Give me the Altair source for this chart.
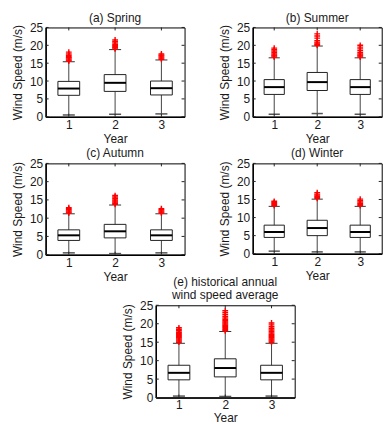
import altair as alt
import pandas as pd

# ---------------- data ----------------
titles = ["(a) Spring", "(b) Summer", "(c) Autumn", "(d) Winter",
          ["(e) historical annual", "wind speed average"]]
years = [1, 2, 3]
y_ticks = [0, 5, 10, 15, 20, 25]

whisker_lo = [[0.5, 0.7, 0.8], [0.7, 0.9, 0.7], [0.5, 0.3, 0.5], [0.7, 0.5, 0.5], [0.4, 0.3, 0.4]]
q1 = [[6.0, 7.1, 6.1], [6.25, 7.35, 6.25], [3.9, 4.6, 3.9], [4.5, 5.0, 4.5], [4.8, 5.6, 4.8]]
median = [[7.9, 9.5, 8.0], [8.3, 9.7, 8.3], [5.3, 6.4, 5.3], [6.0, 7.1, 6.0], [6.7, 8.0, 6.7]]
q3 = [[9.9, 11.8, 10.0], [10.4, 12.4, 10.4], [6.8, 8.3, 6.8], [7.9, 9.25, 7.9], [8.75, 10.5, 8.75]]
whisker_hi = [[15.4, 18.8, 15.9], [16.5, 19.8, 16.5], [11.2, 13.6, 11.2], [13.1, 15.1, 13.1], [14.7, 17.9, 14.7]]

outliers = [
    [[15.6, 15.9, 16.2, 16.5, 16.8, 17.2, 17.6, 18.1],
     [19.0, 19.3, 19.6, 19.9, 20.2, 20.6, 21.0, 21.5],
     [16.1, 16.4, 16.7, 17.0, 17.3, 17.6]],
    [[16.7, 17.0, 17.3, 17.6, 18.0, 18.4, 18.8, 19.2],
     [20.0, 20.3, 20.6, 20.9, 21.3, 22.0, 22.6, 23.2],
     [16.7, 17.0, 17.3, 17.6, 18.0, 18.5, 19.0, 19.5, 20.0]],
    [[11.4, 11.7, 12.0, 12.3, 12.6, 12.9],
     [13.8, 14.1, 14.4, 14.7, 15.0, 15.4, 15.8, 16.2],
     [11.4, 11.7, 12.0, 12.3, 12.6]],
    [[13.3, 13.6, 13.9, 14.2, 14.5],
     [15.3, 15.6, 15.9, 16.2, 16.5, 16.9],
     [13.3, 13.6, 13.9, 14.3, 14.7, 15.1]],
    [[15.0, 15.3, 15.6, 15.9, 16.2, 16.5, 16.8, 17.1, 17.4, 17.7, 18.1, 18.5, 18.9],
     [18.1, 18.4, 18.7, 19.0, 19.3, 19.6, 19.9, 20.2, 20.5, 20.8, 21.2, 21.6, 22.0, 22.5, 23.0, 23.5],
     [15.0, 15.3, 15.6, 15.9, 16.2, 16.5, 16.8, 17.1, 17.5, 17.9, 18.3, 18.7, 19.2, 19.7, 20.2]],
]

FONT = "Liberation Sans"
TXT = "#1a1a1a"
PLUS = "M-1,0L1,0M0,-1L0,1"


def panel(i, w, h, xlabel_pad=3, xtitle_pad=3):
    stats = pd.DataFrame({
        "year": years, "lo": whisker_lo[i], "q1": q1[i], "med": median[i],
        "q3": q3[i], "hi": whisker_hi[i],
    })
    out = pd.DataFrame(
        [{"year": yr, "v": v} for yr, vals in zip(years, outliers[i]) for v in vals]
    )
    xscale = alt.Scale(domain=[0.5, 3.5], nice=False, zero=False)
    yscale = alt.Scale(domain=[0, 25], nice=False)
    xaxis = alt.Axis(values=years, format="d", title="Year", ticks=False,
                     labelPadding=xlabel_pad, titlePadding=xtitle_pad, grid=False)
    yaxis = alt.Axis(values=y_ticks, title="Wind Speed (m/s)", ticks=False,
                     labelPadding=3, titlePadding=5, grid=False)

    def X(f):
        return alt.X(f, type="quantitative", scale=xscale, axis=xaxis)

    def Y(f):
        return alt.Y(f, type="quantitative", scale=yscale, axis=yaxis)

    base = alt.Chart(stats).transform_calculate(
        bl="datum.year - 0.235", br="datum.year + 0.235",
        cl="datum.year - 0.13", cr="datum.year + 0.13",
    )
    whisk = base.mark_rule(color="#444", strokeWidth=1).encode(
        x=X("year"), y=Y("lo"), y2="hi:Q")
    cap_lo = base.mark_rule(color="#555", strokeWidth=1.5).encode(
        x=X("cl"), x2="cr:Q", y=Y("lo"))
    cap_hi = base.mark_rule(color="#333", strokeWidth=1).encode(
        x=X("cl"), x2="cr:Q", y=Y("hi"))
    box = base.mark_bar(fill="white", stroke="#222", strokeWidth=1).encode(
        x=X("bl"), x2="br:Q", y=Y("q1"), y2="q3:Q")
    med = base.mark_rule(color="black", strokeWidth=2).encode(
        x=X("bl"), x2="br:Q", y=Y("med"))
    pts = alt.Chart(out).mark_point(shape=PLUS, color="#ff0000", filled=False,
                                    size=34, strokeWidth=1.4, opacity=1).encode(
        x=X("year"), y=Y("v"))

    tdf = pd.DataFrame({"t": y_ticks})
    ytl = alt.Chart(tdf).mark_rule(color="#222").encode(
        y=Y("t"), x=alt.value(0), x2=alt.value(3))
    ytr = alt.Chart(tdf).mark_rule(color="#222").encode(
        y=Y("t"), x=alt.value(w - 3), x2=alt.value(w))
    xdf = pd.DataFrame({"year": years})
    xtb = alt.Chart(xdf).mark_rule(color="#222").encode(
        x=X("year"), y=alt.value(h), y2=alt.value(h - 3))
    xtt = alt.Chart(xdf).mark_rule(color="#222").encode(
        x=X("year"), y=alt.value(0), y2=alt.value(3))

    return alt.layer(whisk, cap_lo, cap_hi, box, med, pts, ytl, ytr, xtb, xtt).properties(
        width=w, height=h,
        title=alt.TitleParams(text=titles[i], fontSize=12, fontWeight="normal",
                              font=FONT, color=TXT, offset=-3, lineHeight=13,
                              anchor="middle"),
    )


pa = panel(0, 140, 90)
pb = panel(1, 130, 90)
pc = panel(2, 140, 92)
pdn = panel(3, 130, 91)
pe = panel(4, 140, 93, xlabel_pad=2, xtitle_pad=2)

spacer = alt.Chart(pd.DataFrame({"a": [0]})).mark_point(opacity=0).encode(
    x=alt.value(0), y=alt.value(0)
).properties(width=111, height=93, view=alt.ViewBackground(stroke="transparent"))

row1 = alt.hconcat(pa, pb, spacing=68.7, bounds="flush")
row2 = alt.hconcat(pc, pdn, spacing=68.7, bounds="flush")
row3 = alt.hconcat(spacer, pe, spacing=0, bounds="flush")
top = alt.vconcat(row1, row2, spacing=1)
chart = alt.vconcat(top, row3, spacing=-8).properties(
    padding={"left": 11, "top": 9, "right": 0, "bottom": 1},
    background="white",
).configure_view(
    stroke="black", strokeWidth=1
).configure_axis(
    labelFont=FONT, titleFont=FONT, labelFontSize=12, titleFontSize=12,
    titleFontWeight="normal", labelColor=TXT, titleColor=TXT,
    domainColor="black", domainWidth=1.5,
)

chart.save("out.html", embed_options={"renderer": "svg", "actions": False})
